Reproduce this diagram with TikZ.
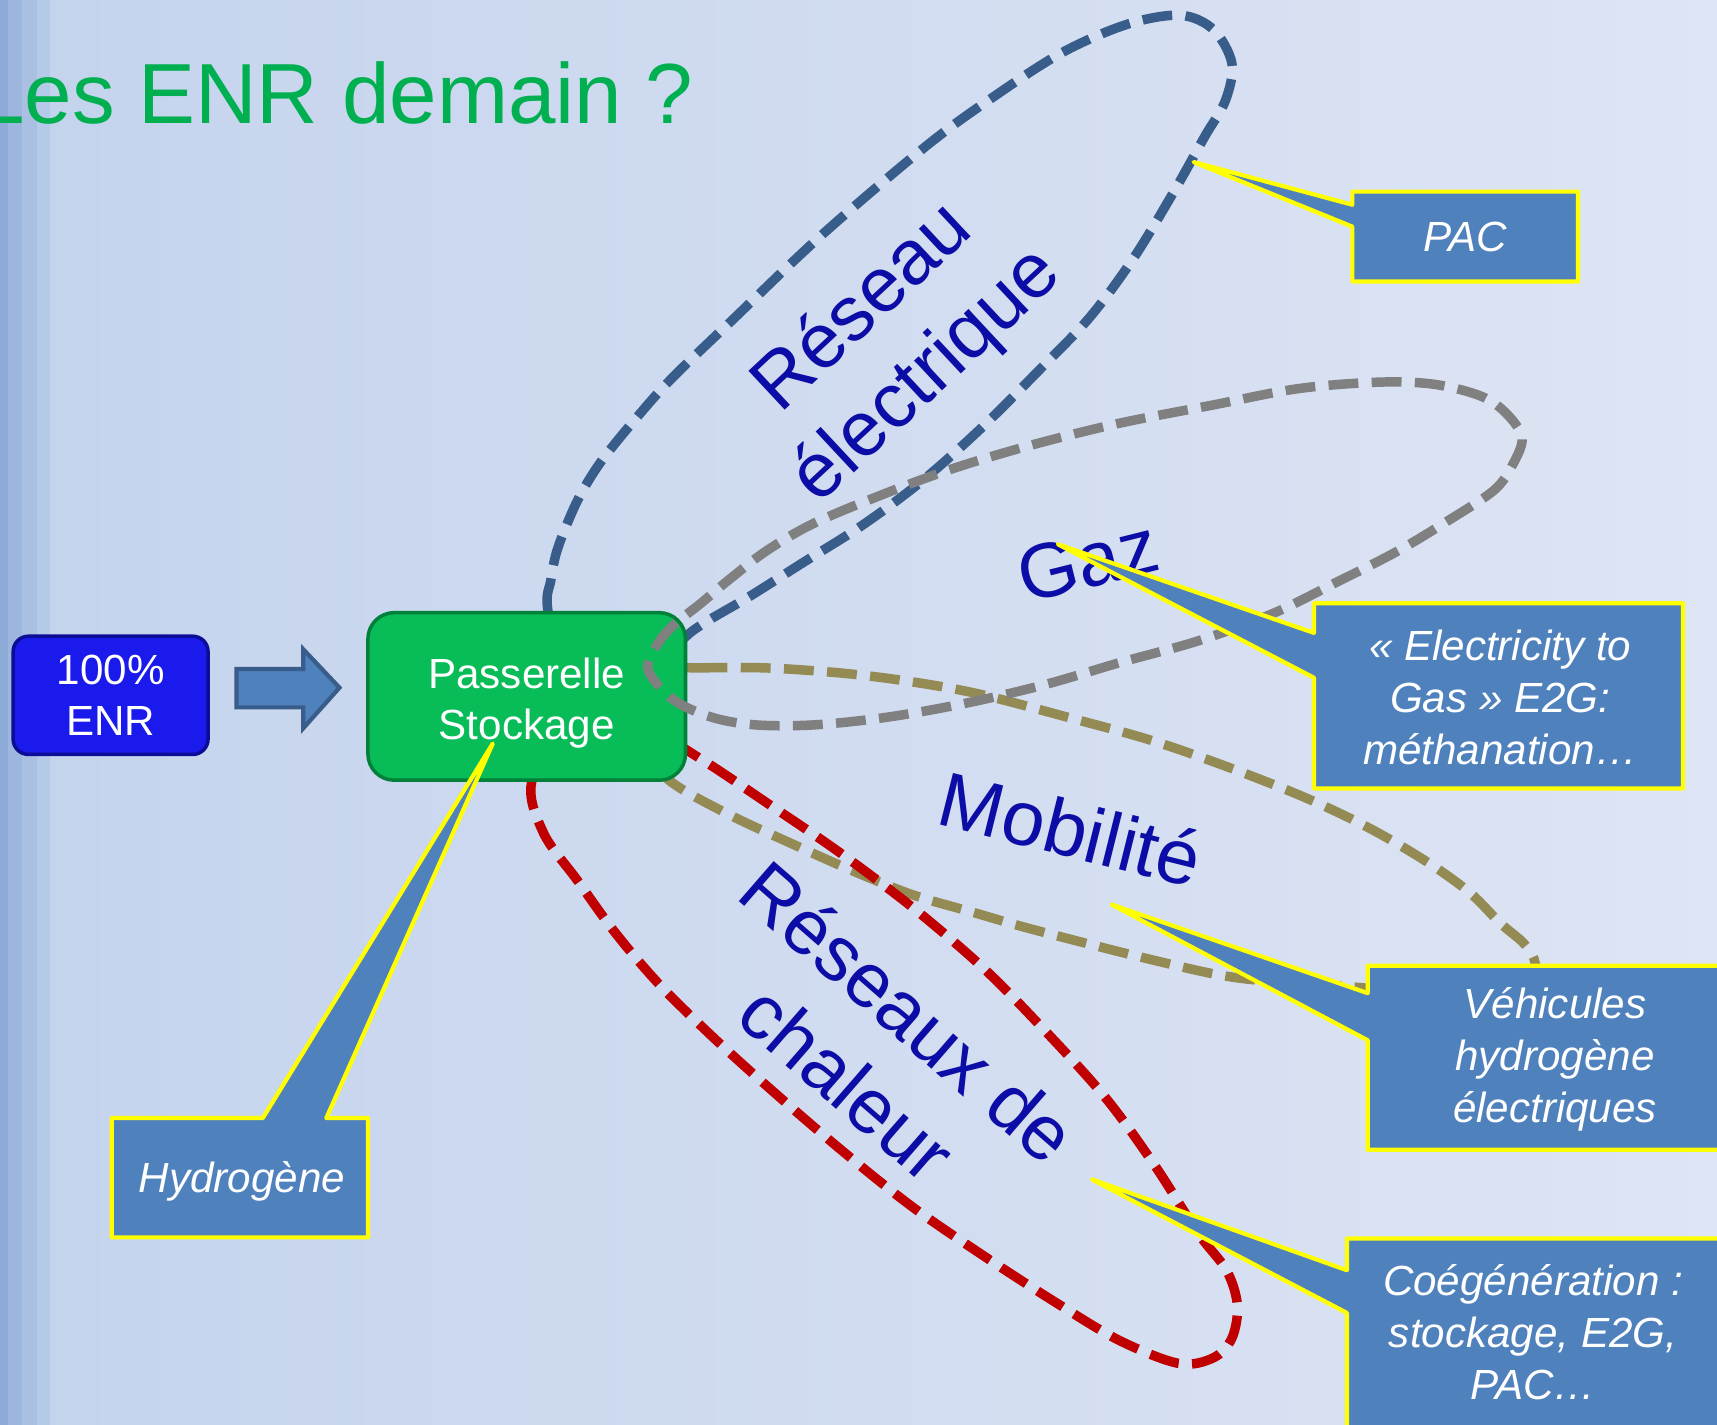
\documentclass[tikz,border=0pt]{standalone}
\usepackage{fontspec}
\setmainfont{Liberation Sans}
\usepackage{tikz}
\usetikzlibrary{positioning, calc}
\usepackage{xcolor}
\definecolor{bgleft}{RGB}{196,211,237}
\definecolor{bgright}{RGB}{222,229,244}
\definecolor{stripea}{RGB}{142,171,215}
\definecolor{stripeb}{RGB}{156,182,222}
\definecolor{stripec}{RGB}{169,192,227}
\definecolor{striped}{RGB}{181,201,232}
\definecolor{titlegreen}{RGB}{0,176,80}
\definecolor{enrblue}{RGB}{26,26,236}
\definecolor{enredge}{RGB}{12,12,150}
\definecolor{passgreen}{RGB}{8,188,88}
\definecolor{passedge}{RGB}{0,128,56}
\definecolor{calfill}{RGB}{79,129,189}
\definecolor{caledge}{RGB}{255,255,0}
\definecolor{darkslate}{RGB}{56,93,138}
\definecolor{loopgrey}{RGB}{128,128,128}
\definecolor{loopolive}{RGB}{148,138,84}
\definecolor{loopred}{RGB}{192,0,0}
\definecolor{labelblue}{RGB}{12,12,166}
\newlength\dunit
\setlength\dunit{0.01095cm}

\begin{document}
\begin{tikzpicture}[
    x=\dunit, y=-\dunit,
    box/.style={draw, line width=1pt, align=center, text=white, inner sep=0pt, font=\fontsize{12}{14.6}\selectfont},
    dashloop/.style={line width=2.7pt, dash pattern=on 8.5pt off 3.8pt},
    callbox/.style={fill=calfill, draw=caledge, line width=1.2pt, line join=round},
    calltext/.style={text=white, align=center, inner sep=0pt, font=\fontsize{12}{14.8}\selectfont\itshape},
    looplabel/.style={text=labelblue, align=center, inner sep=0pt, font=\fontsize{22}{26.5}\selectfont},
    blockarrow/.style={fill=calfill, draw=darkslate, line width=1.2pt}
]
\useasboundingbox (0,0) rectangle (1568,1301);
\clip (0,0) rectangle (1568,1301);
\shade[left color=bgleft, right color=bgright] (0,0) rectangle (1568,1301);
\fill[stripea] (0,0) rectangle (7,1301);
\fill[stripeb] (7,0) rectangle (20,1301);
\fill[stripec] (20,0) rectangle (34,1301);
\fill[striped] (34,0) rectangle (46,1301);

\node[anchor=base east, text=titlegreen, inner sep=0pt, font=\fontsize{24.3}{28}\selectfont] (title) at (634,113) {Les ENR demain ?};

\draw[dashloop, darkslate] plot[smooth cycle, tension=0.55] coordinates {
    (515,615) (500,555) (503,530) (508,505) (518,478) (531,450) (550,420) (580,383)
    (613,346) (668,293) (750,215) (845,134) (905,90) (970,48) (1030,22) (1078,14)
    (1108,27) (1125,58) (1119,92) (1100,125) (1072,175) (1035,236) (995,290) (949,338)
    (895,392) (841,440) (787,480) (733,514) (684,545) (634,575) (585,615)};
\draw[dashloop, loopolive] plot[smooth cycle, tension=0.55] coordinates {
    (585,612) (637,610) (700,610) (772,615) (835,623) (895,634) (975,655) (1051,676)
    (1120,700) (1191,728) (1250,756) (1303,787) (1342,815) (1370,843) (1392,862) (1402,880)
    (1395,897) (1365,905) (1320,906) (1270,904) (1219,900) (1130,893) (1054,877) (944,849)
    (888,833) (833,817) (778,795) (722,770) (670,746) (620,719) (600,700) (585,665)};
\draw[dashloop, loopred] plot[smooth cycle, tension=0.55] coordinates {
    (525,650) (486,712) (496,760) (528,805) (562,852) (603,900) (652,948) (704,995)
    (768,1050) (833,1102) (900,1148) (965,1190) (1022,1224) (1076,1245) (1108,1240) (1125,1222)
    (1130,1192) (1120,1160) (1094,1126) (1055,1065) (1010,1003) (955,942) (899,885) (835,830)
    (766,778) (700,733) (643,695) (595,668)};

\node[box, fill=enrblue, draw=enredge, minimum width=178\dunit, minimum height=108\dunit, rounded corners=14\dunit] (enr) at (101,635) {100\%\\ENR};
\node[box, fill=passgreen, draw=passedge, minimum width=290\dunit, minimum height=153\dunit, rounded corners=24\dunit] (pass) at (481,636) {\rule{0pt}{12.6pt}Passerelle\\Stockage};
\draw[blockarrow] (216,611) -- (277,611) -- (277,593) -- (310,628) -- (277,665) -- (277,646) -- (216,646) -- cycle;

\draw[dashloop, loopgrey] plot[smooth cycle, tension=0.55] coordinates {
    (592,612) (600,589) (615,571) (640,551) (665,530) (700,503) (743,478) (805,452)
    (870,428) (940,407) (1020,387) (1107,370) (1185,355) (1259,349) (1310,351) (1353,362)
    (1376,378) (1390,400) (1381,425) (1364,448) (1320,477) (1275,504) (1220,532) (1163,560)
    (1095,585) (1023,605) (955,625) (883,642) (810,655) (743,662) (690,662) (650,655) (615,639)};

\node[looplabel, rotate=43] (reseau) at (818,313) {Réseau\\électrique};
\node[looplabel, rotate=14] (gaz) at (993,512) {Gaz};
\node[looplabel, rotate=-14] (mobilite) at (978,757) {Mobilité};
\node[looplabel, rotate=-41] (chaleur) at (802,956) {Réseaux de\\chaleur};

\coordinate (pactip) at (1090,148);
\coordinate (e2gtip) at (966,497);
\coordinate (vehtip) at (1015,826);
\coordinate (cogtip) at (997,1077);
\coordinate (hydtip) at (450,679);

\draw[callbox] (pactip) -- (1235,187) |- (1441,175) |- (1235,257) -- (1235,207) -- cycle;
\node[calltext] (pac) at (1338,216) {PAC};

\draw[callbox] (e2gtip) -- (1200,578) |- (1537,551) |- (1200,720) -- (1200,619) -- cycle;
\node[calltext] (e2g) at (1370,637) {« Electricity to\\Gas » E2G:\\méthanation…};

\draw[callbox] (vehtip) -- (1249,907) |- (1591,882) |- (1249,1050) -- (1249,950) -- cycle;
\node[calltext] (veh) at (1420,967) {Véhicules\\hydrogène\\électriques};

\draw[callbox] (cogtip) -- (1230,1160) |- (1575,1131) |- (1230,1305) -- (1230,1199) -- cycle;
\node[calltext] (cog) at (1400,1217) {Coégénération :\\stockage, E2G,\\PAC…};

\draw[callbox] (hydtip) -- (298,1021) -| (336,1130) -| (102,1021) -- (240,1021) -- cycle;
\node[calltext] (hyd) at (221,1079) {Hydrogène};
\end{tikzpicture}
\end{document}
